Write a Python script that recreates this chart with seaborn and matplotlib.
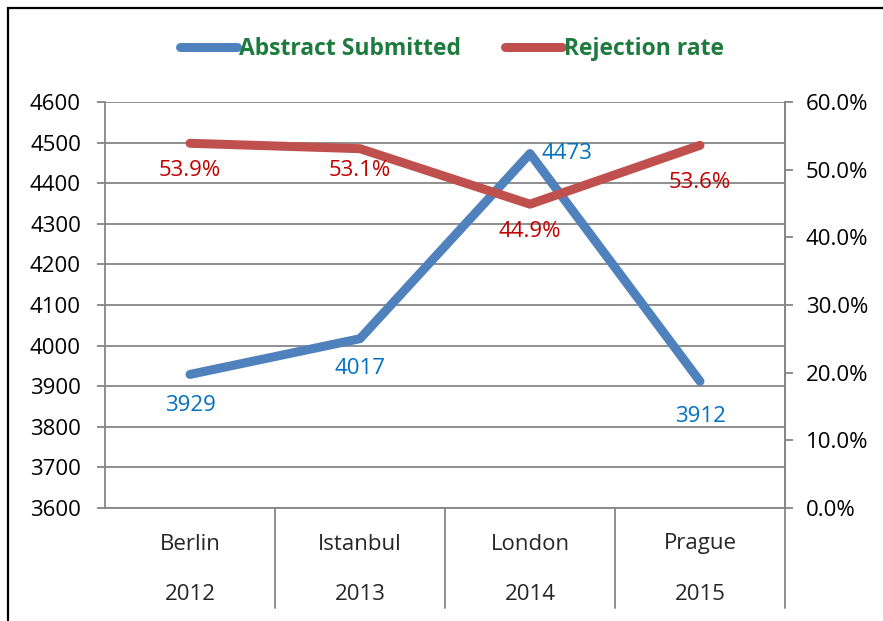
import matplotlib
matplotlib.use("Agg")
import matplotlib.pyplot as plt
import matplotlib.transforms as mtransforms
from matplotlib.patches import Rectangle
from matplotlib.ticker import MultipleLocator, PercentFormatter
import pandas as pd
import seaborn as sns

# ---------------------------------------------------------------------------
# Data
# ---------------------------------------------------------------------------
cities = ["Berlin", "Istanbul", "London", "Prague"]
years = ["2012", "2013", "2014", "2015"]
abstracts = [3929, 4017, 4473, 3912]
rejection = [0.539, 0.531, 0.449, 0.536]

# data label offsets in pixels (dx, dy), negative dy = below the point
abs_offsets = [(0, -31), (0, -30), (12, 0), (0, -35)]
rej_offsets = [(0, -27), (0, -22), (0, -27), (0, -37)]

BLUE = "#4F81BD"
RED = "#C0504D"
BLUE_TXT = "#0070C0"
RED_TXT = "#C00000"
GREEN = "#1E7B3E"
GRID = "#868686"
PX = 0.72  # points per pixel at dpi 100
FS = 16

sns.set_style("white")
plt.rcParams["font.family"] = ["Open Sans", "DejaVu Sans"]
plt.rcParams["font.size"] = FS

df = pd.DataFrame({"city": cities, "year": years,
                   "abstracts": abstracts, "rejection": rejection})

W, H = 883, 621
fig = plt.figure(figsize=(W / 100, H / 100), dpi=100)
fig.patch.set_facecolor("white")

# outer chart border (right/bottom edges cut off like the reference)
fig.patches.append(Rectangle((8 / W, -0.05), 1.1, 1 - 8 / H + 0.05,
                             transform=fig.transFigure, fill=False,
                             edgecolor="black", linewidth=1.6))

ax = fig.add_axes([105 / W, 1 - 508 / H, 680 / W, 406 / H])
ax2 = ax.twinx()

sns.lineplot(data=df, x="city", y="abstracts", ax=ax, color=BLUE,
             linewidth=9 * PX, solid_capstyle="round",
             solid_joinstyle="round", legend=False)
sns.lineplot(data=df, x="city", y="rejection", ax=ax2, color=RED,
             linewidth=9 * PX, solid_capstyle="round",
             solid_joinstyle="round", legend=False)

# primary axis
ax.set_xlim(-0.5, len(cities) - 0.5)
ax.set_ylim(3600, 4600)
ax.yaxis.set_major_locator(MultipleLocator(100))
ax.grid(axis="y", color=GRID, linewidth=1.3)
ax.grid(axis="x", visible=False)
ax.set_axisbelow(True)
ax.set_xticks([])
ax.set_xlabel("")
ax.set_ylabel("")
ax.tick_params(axis="y", length=8 * PX, width=1.3, color=GRID,
               pad=16 * PX, labelsize=FS, labelcolor="black")
ax.spines["top"].set_visible(False)
for side in ["left", "bottom", "right"]:
    ax.spines[side].set_color(GRID)
    ax.spines[side].set_linewidth(1.3)

# secondary axis
ax2.set_ylim(0, 0.6)
ax2.yaxis.set_major_locator(MultipleLocator(0.1))
ax2.yaxis.set_major_formatter(PercentFormatter(1.0, decimals=1))
ax2.set_ylabel("")
ax2.tick_params(axis="y", length=8 * PX, width=1.3, color=GRID,
                pad=13 * PX, labelsize=FS, labelcolor="black")
ax2.grid(False)
for side in ["top", "left", "bottom"]:
    ax2.spines[side].set_visible(False)
ax2.spines["right"].set_color(GRID)
ax2.spines["right"].set_linewidth(1.3)

# two-level category axis
blend = mtransforms.blended_transform_factory(ax.transData, ax.transAxes)
drop = (608 - 508) / 406
for i in range(len(cities)):
    ax.plot([i + 0.5, i + 0.5], [0, -drop], transform=blend, color=GRID,
            linewidth=1.3, clip_on=False)
    ax.text(i, -(544 - 508) / 406, cities[i], transform=blend,
            ha="center", va="center", fontsize=FS)
    ax.text(i, -(594 - 508) / 406, years[i], transform=blend,
            ha="center", va="center", fontsize=FS)

# data labels
for i, (v, (dx, dy)) in enumerate(zip(abstracts, abs_offsets)):
    ax.annotate(f"{v}", (i, v), xytext=(dx * PX, dy * PX),
                textcoords="offset points", color=BLUE_TXT, fontsize=FS,
                ha="left" if dx else "center", va="center")
for i, (v, (dx, dy)) in enumerate(zip(rejection, rej_offsets)):
    ax2.annotate(f"{v * 100:.1f}%", (i, v), xytext=(dx * PX, dy * PX),
                 textcoords="offset points", color=RED_TXT, fontsize=FS,
                 ha="center", va="center")

# legend
leg = fig.legend([ax.lines[0], ax2.lines[0]],
                 ["Abstract Submitted", "Rejection rate"],
                 loc="center", bbox_to_anchor=(452 / W, 1 - 49 / H),
                 ncol=2, frameon=False, handlelength=2.5,
                 handletextpad=0.1, columnspacing=1.9,
                 prop={"weight": "bold", "size": 16.5})
for t in leg.get_texts():
    t.set_color(GREEN)

fig.savefig("out.png", dpi=100, facecolor=fig.get_facecolor())
